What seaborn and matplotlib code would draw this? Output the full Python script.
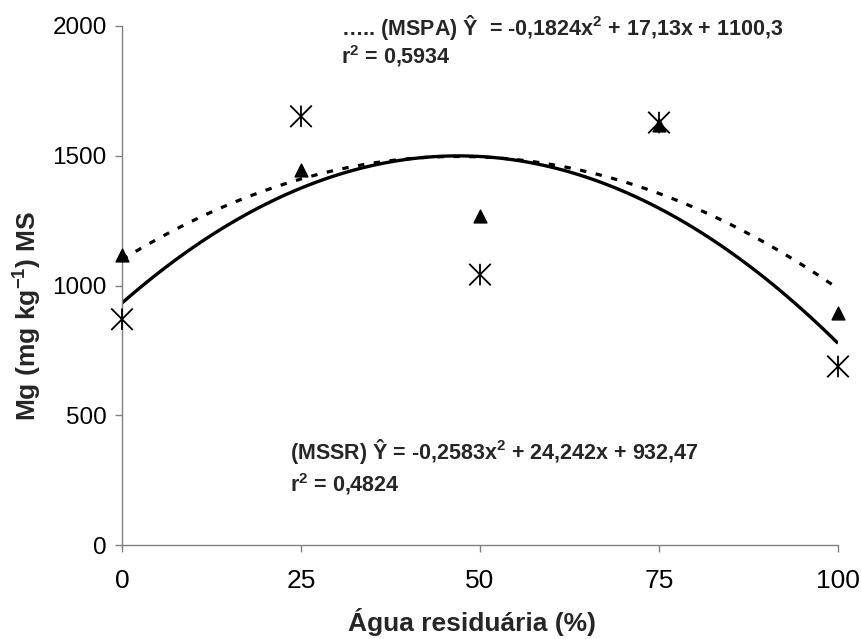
import numpy as np
import pandas as pd
import seaborn as sns
import matplotlib
matplotlib.use("Agg")
import matplotlib.pyplot as plt
from matplotlib.path import Path

# ---- data ----
agua = [0, 25, 50, 75, 100]                       # Água residuária (%)
mspa = [1119, 1447, 1269, 1620, 893]              # triangles (MSPA)
mssr = [870, 1652, 1042, 1628, 688]               # stars (MSSR)
x_ticks = [0, 25, 50, 75, 100]
y_ticks = [0, 500, 1000, 1500, 2000]
eq_mspa = "….. (MSPA) Ŷ  = -0,1824x$^{2}$ + 17,13x + 1100,3"
r2_mspa = "r$^{2}$ = 0,5934"
eq_mssr = "(MSSR) Ŷ = -0,2583x$^{2}$ + 24,242x + 932,47"
r2_mssr = "r$^{2}$ = 0,4824"

sns.set_theme(style="white")
plt.rcParams["font.family"] = ["Liberation Sans", "DejaVu Sans"]
plt.rcParams["mathtext.fontset"] = "custom"
plt.rcParams["mathtext.rm"] = "Liberation Sans:bold"
plt.rcParams["mathtext.bf"] = "Liberation Sans:bold"
plt.rcParams["mathtext.default"] = "rm"

df = pd.DataFrame({"x": agua, "mspa": mspa, "mssr": mssr})

fig = plt.figure(figsize=(8.61, 6.39), dpi=100)
ax = fig.add_axes([122 / 861, 94 / 639, (838 - 122) / 861, (545 - 26) / 639])

# regression curves (quadratic fits)
sns.regplot(data=df, x="x", y="mssr", order=2, ci=None, scatter=False, ax=ax,
            line_kws=dict(color="black", lw=2.4, solid_capstyle="butt"))
sns.regplot(data=df, x="x", y="mspa", order=2, ci=None, scatter=False, ax=ax,
            line_kws=dict(color="black", lw=2.3, dashes=(2.0, 3.0)))

# star marker (x + vertical line)
star = Path([(0, -1), (0, 1), (-1, -1), (1, 1), (-1, 1), (1, -1)],
            [Path.MOVETO, Path.LINETO, Path.MOVETO, Path.LINETO, Path.MOVETO, Path.LINETO])

ax.scatter(df["x"], df["mspa"], marker="^", s=85, color="black", zorder=5, clip_on=False)
ax.scatter(df["x"], df["mssr"], marker=star, s=240, facecolor="none",
           edgecolor="black", linewidth=1.3, zorder=6, clip_on=False)

ax.set_xlim(0, 100)
ax.set_ylim(0, 2000)
ax.set_xticks(x_ticks)
ax.set_yticks(y_ticks)
ax.set_xticklabels([str(v) for v in x_ticks], fontsize=19)
ax.set_yticklabels([str(v) for v in y_ticks], fontsize=17.5)

for s in ["top", "right"]:
    ax.spines[s].set_visible(False)
for s in ["left", "bottom"]:
    ax.spines[s].set_color("#808080")
    ax.spines[s].set_linewidth(1.0)
ax.tick_params(axis="both", direction="out", length=5, width=1.0, color="#808080",
               labelcolor="black", bottom=True, left=True)
ax.tick_params(axis="x", pad=12)
ax.tick_params(axis="y", pad=6)

ax.set_xlabel("")
ax.set_ylabel("")
fig.text(472 / 861, 1 - 622 / 639, "Água residuária (%)", fontsize=19, fontweight="bold",
         ha="center", va="center")
fig.text(28 / 861, 1 - 316 / 639, "Mg (mg kg$^{-1}$) MS", fontsize=19, fontweight="bold",
         ha="center", va="center", rotation=90)

fig.text(341 / 861, 1 - 28 / 639, eq_mspa, fontsize=15.5, fontweight="bold", va="center", ha="left")
fig.text(341 / 861, 1 - 56 / 639, r2_mspa, fontsize=15.5, fontweight="bold", va="center", ha="left")
fig.text(290 / 861, 1 - 452 / 639, eq_mssr, fontsize=15.5, fontweight="bold", va="center", ha="left")
fig.text(290 / 861, 1 - 484 / 639, r2_mssr, fontsize=15.5, fontweight="bold", va="center", ha="left")

fig.savefig("out.png", dpi=100, facecolor="white")
